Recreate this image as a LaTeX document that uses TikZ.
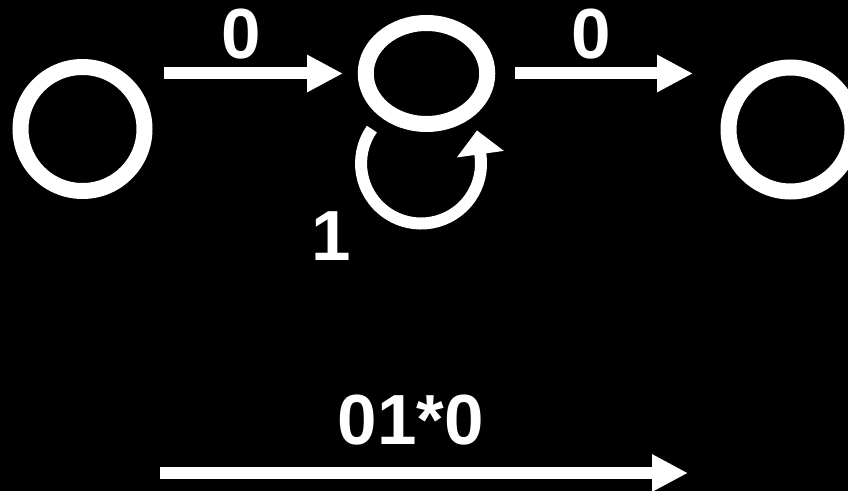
\documentclass[tikz,border=0pt]{standalone}
\usepackage{fontspec}
\setmainfont{Liberation Sans}
\usetikzlibrary{arrows.meta,shapes.geometric}

\begin{document}
\begin{tikzpicture}
[
	x=1pt,y=1pt,
	state/.style={circle,draw=white,line width=16pt,inner sep=0pt,minimum size=124pt},
	edge/.style={white,line width=12pt,-{Triangle[length=36pt,width=35pt]}},
	lbl/.style={text=white,font=\bfseries\fontsize{71}{71}\selectfont,inner sep=0pt}
]

	% background
	\fill[black] (0,0) rectangle (848,491);
	\useasboundingbox (0,0) rectangle (848,491);

	% states
	\node[state] (q0) at (82.5,362) {};
	\node[ellipse,draw=white,line width=16pt,inner sep=0pt,minimum width=121.5pt,minimum height=101pt] (q1) at (426.5,417.5) {};
	\node[state] (q2) at (790.5,361.5) {};

	% transitions
	\draw[edge,shorten <=11.5pt,shorten >=14.75pt,yshift=2.5pt] (q0.east |- q1) -- node[lbl,above=8pt,xshift=-14pt] {0} (q1.west);
	\draw[edge,shorten <=19.75pt,shorten >=27.5pt,yshift=2.5pt] (q1.east) -- node[lbl,above=8pt,xshift=-17pt] {0} (q2.west |- q1);

	% loop on q1
	\draw[white,line width=12pt,-{Triangle[length=24pt,width=46pt]}]
	  ([shift={(-54.6,-55.6)}]q1.center)
	  arc[start angle=145,end angle=368,radius=60pt]
	  -- ++(98:25pt);
	\node[lbl] (one) at (331.5,254.5) {1};

	% regular expression
	\coordinate (s) at (160,18);
	\coordinate (t) at (688,18);
	\draw[edge] (s) -- node[lbl,above=22pt,xshift=-13pt] {01*0} (t);

\end{tikzpicture}
\end{document}
